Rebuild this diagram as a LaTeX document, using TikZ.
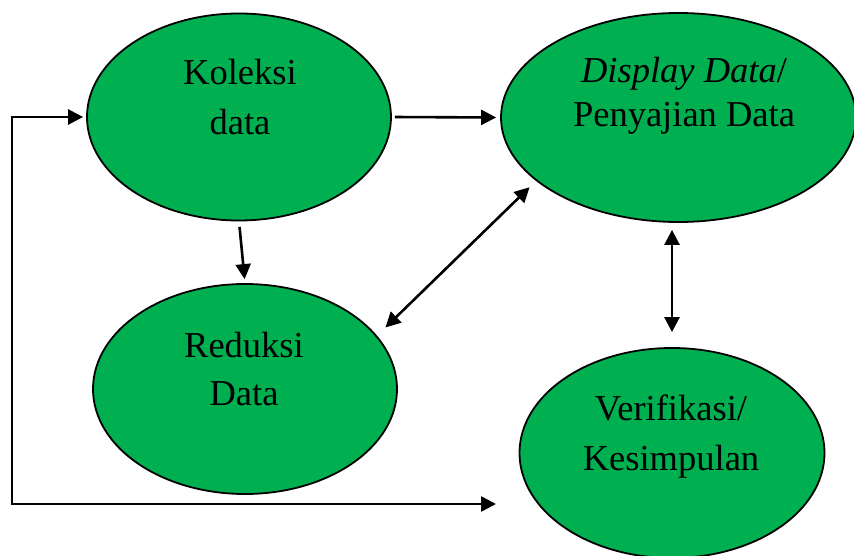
\documentclass[tikz,border=0pt]{standalone}
\usepackage{fontspec}
\setmainfont{Liberation Serif}
\usetikzlibrary{shapes.geometric,arrows.meta}
\definecolor{stagegreen}{RGB}{0,176,80}
\tikzset{
  stage/.style={ellipse, draw=black, line width=1.8pt, fill=stagegreen, inner sep=0pt},
  stagetext/.style={align=center, anchor=base, inner sep=0pt, font=\fontsize{36.5}{50}\selectfont},
  flow/.style={line width=2.6pt, -{Triangle[length=15pt,width=15pt]}},
  twoway/.style={line width=2.6pt, {Triangle[length=15pt,width=15pt]}-{Triangle[length=15pt,width=15pt]}},
}
\begin{document}
\begin{tikzpicture}[x=1pt,y=-1pt]
\useasboundingbox (0,0) rectangle (854,556);

% the four stages
\node[stage, minimum width=304pt, minimum height=207pt] (kol) at (239,117) {};
\node[stage, minimum width=355pt, minimum height=209pt] (disp) at (678.5,117.5) {};
\node[stage, minimum width=304pt, minimum height=210pt] (red) at (245,389) {};
\node[stage, minimum width=305pt, minimum height=210pt] (ver) at (672,453) {};

% stage labels (placed by the baseline of their last line)
\node[stagetext] (kolT) at (240,135) {Koleksi\\data};
\node[stagetext] (dispT) at (684,127) {\textit{Display Data}/\\[-6pt]Penyajian Data};
\node[stagetext] (redT) at (244,405) {Reduksi\\[-2pt]Data};
\node[stagetext] (verT) at (671,470) {Verifikasi/\\Kesimpulan};

% connectors
\draw[flow, shorten <=3pt, shorten >=4pt] (kol.east) -- (disp.west);
\draw[flow, shorten <=5.5pt, shorten >=4pt] (kol.south) -- (red.north);
\draw[twoway, shorten <=11.7pt, shorten >=9pt] (red.22.4) -- (disp.204.2);
\draw[twoway, shorten <=7pt, shorten >=15pt] (ver.north |- disp.south) -- (ver.north);

% feedback loop along the left and bottom
\coordinate (fbend) at (496,504);
\coordinate (fbcorner) at (12,504);
\draw[twoway, shorten >=3pt] (fbend) -- (fbcorner) |- (kol.west);
\end{tikzpicture}
\end{document}
